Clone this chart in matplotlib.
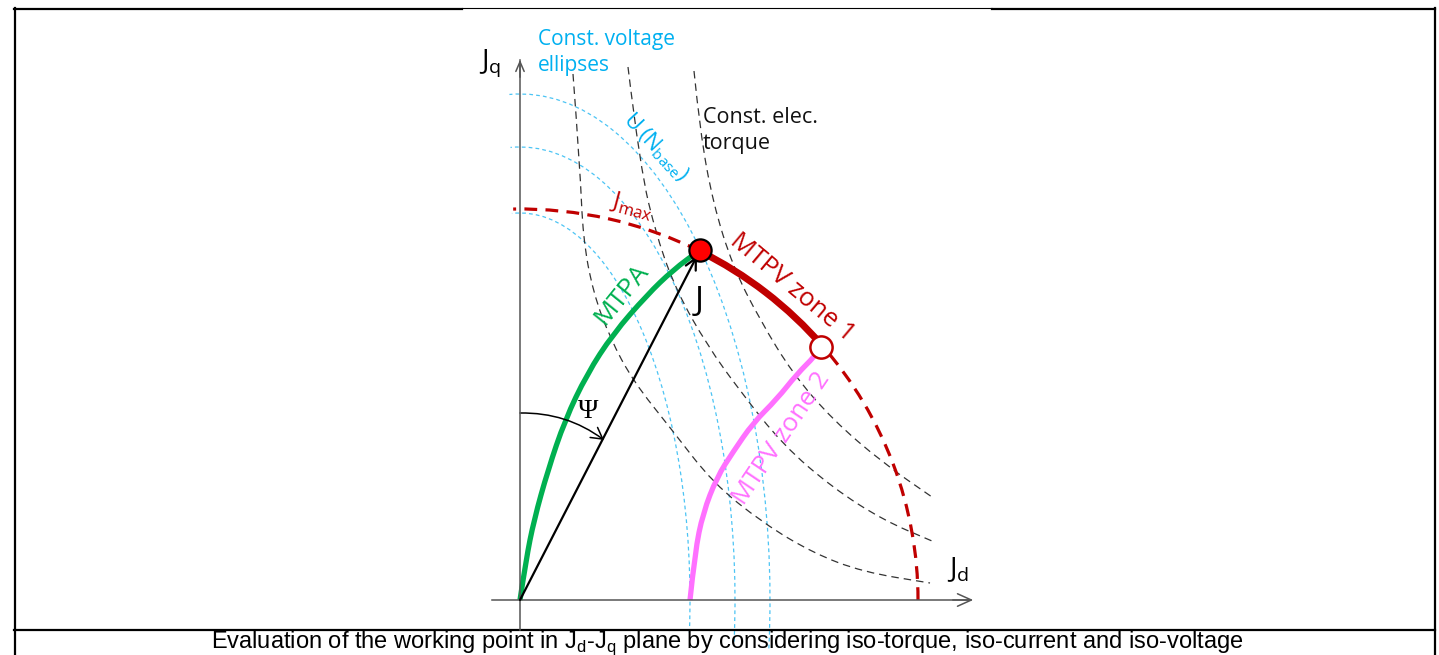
import matplotlib.pyplot as plt
from matplotlib.patches import Arc, FancyArrowPatch, PathPatch
from matplotlib.path import Path
import numpy as np

plt.rcParams['font.family'] = ['Open Sans', 'DejaVu Sans']

# Jd-Jq plane, one unit = one pixel of the original drawing, origin at the axes crossing
mtpa_d = [0, 6, 14, 28, 45, 67, 93, 127, 153, 180]
mtpa_q = [0, 40, 80, 130, 180, 226, 266, 305, 330, 350]

mtpv2_d = [170, 175, 183, 197, 213, 233, 257, 277, 295, 300]
mtpv2_q = [0, 48, 87, 123, 148, 177, 201, 226, 244, 252]

torque1_d = [53, 60, 63, 73, 90, 113, 152, 193, 243, 293, 343, 410]
torque1_q = [526, 433, 362, 308, 262, 219, 170, 117, 77, 47, 28, 17]
torque2_d = [108, 120, 137, 157, 187, 220, 263, 313, 363, 412]
torque2_q = [533, 433, 362, 308, 255, 209, 155, 112, 80, 59]
torque3_d = [174, 180, 193, 213, 240, 273, 313, 363, 412]
torque3_q = [529, 469, 397, 333, 280, 226, 180, 137, 103]

# constant voltage ellipses (semi axes along d and q)
ell_a = [170, 215, 250]
ell_b = [387, 453, 506]

# current limit Jmax
jmax_a, jmax_b = 398, 391
J_pt = (180, 350)
J_ang = 62.8
zone_pt = (301, 253)
zone_ang = 40.0

RED = '#C00000'
GREEN = '#00B050'
PINK = '#FF70FF'
CYAN = '#00B0F0'
LBLUE = '#4CC4F4'


def smooth_curve(ax, xs, ys, **kw):
    # quadratic bezier pieces through midpoints of the read points
    pts = list(zip(xs, ys))
    verts = [pts[0]]
    codes = [Path.MOVETO]
    for i in range(1, len(pts) - 1):
        mid = ((pts[i][0] + pts[i + 1][0]) / 2, (pts[i][1] + pts[i + 1][1]) / 2)
        verts += [pts[i], mid]
        codes += [Path.CURVE3, Path.CURVE3]
    verts.append(pts[-1])
    codes.append(Path.LINETO)
    ax.add_patch(PathPatch(Path(verts, codes), fill=False, **kw))


fig = plt.figure(figsize=(14.39, 6.55), dpi=100)
ax = fig.add_axes([0, 0, 1, 1])
ax.set_xlim(-520, 919)
ax.set_ylim(-55, 600)
ax.axis('off')

# table frame
ax.plot([-505, -505], [-60, 592], color='black', lw=1.6)
ax.plot([914.5, 914.5], [-60, 592], color='black', lw=1.6)
ax.plot([-506, -58], [591.5, 591.5], color='black', lw=1.6)
ax.plot([-58, 472], [592, 592], color='black', lw=0.8)
ax.plot([472, 915], [591.5, 591.5], color='black', lw=1.6)
ax.plot([-506, 915], [-30, -30], color='black', lw=1.6)

# axes
axc = '#555555'
ax.plot([0, 0], [-30, 540], color=axc, lw=1.1)
ax.annotate('', xy=(0, 543), xytext=(0, 520),
            arrowprops=dict(arrowstyle='->,head_length=0.7,head_width=0.3', color=axc, lw=1.1))
ax.plot([-28, 450], [0, 0], color=axc, lw=1.1)
ax.annotate('', xy=(456, 0), xytext=(430, 0),
            arrowprops=dict(arrowstyle='->,head_length=1.0,head_width=0.45', color=axc, lw=1.1))

# voltage ellipses
for a, b in zip(ell_a, ell_b):
    ax.add_patch(Arc((0, 0), 2 * a, 2 * b, theta1=-11, theta2=91.2, color=LBLUE,
                     lw=0.9, linestyle=(0, (3, 2.5))))

# iso torque
for dd, qq in [(torque1_d, torque1_q), (torque2_d, torque2_q), (torque3_d, torque3_q)]:
    smooth_curve(ax, dd, qq, edgecolor='#333333', lw=0.9, linestyle=(0, (6, 4)))

# Jmax circle
ax.add_patch(Arc((0, 0), 2 * jmax_a, 2 * jmax_b, theta1=J_ang, theta2=91, color=RED,
                 lw=2.3, linestyle=(0, (4, 2.6))))
ax.add_patch(Arc((0, 0), 2 * jmax_a, 2 * jmax_b, theta1=0, theta2=zone_ang, color=RED,
                 lw=2.3, linestyle=(0, (4, 2.6))))
ax.add_patch(Arc((0, 0), 2 * jmax_a, 2 * jmax_b, theta1=zone_ang, theta2=J_ang, color=RED,
                 lw=5.0, capstyle='butt'))

smooth_curve(ax, mtpa_d, mtpa_q, edgecolor=GREEN, lw=3.8, capstyle='butt')
smooth_curve(ax, mtpv2_d, mtpv2_q, edgecolor=PINK, lw=3.8, capstyle='butt')

# current vector and angle
ax.annotate('', xy=(J_pt[0] - 3, J_pt[1] - 6), xytext=(0, 0),
            arrowprops=dict(arrowstyle='->,head_length=0.8,head_width=0.4', color='black',
                            lw=1.6, shrinkA=0, shrinkB=0))
ax.add_patch(FancyArrowPatch((0, 187), (84, 160), connectionstyle='arc3,rad=-0.17',
                             arrowstyle='->,head_length=8,head_width=4.5', color='black',
                             lw=1.1, shrinkA=0, shrinkB=0))

ax.plot(*J_pt, 'o', ms=16, mfc='#FF0000', mec='black', mew=1.6, zorder=5)
ax.plot(*zone_pt, 'o', ms=16, mfc='white', mec=RED, mew=1.8, zorder=5)

# labels
ax.text(-41, 532, r'J$_{\mathregular{q}}$', fontsize=20, ha='left', va='baseline')
ax.text(427, 23, r'J$_{\mathregular{d}}$', fontsize=20, ha='left', va='baseline')
ax.text(18, 571, 'Const. voltage\nellipses', color=CYAN, fontsize=15, va='top',
        linespacing=1.3)
ax.text(183, 493, 'Const. elec.\ntorque', color='#111111', fontsize=15.5, va='top',
        linespacing=1.3)
ax.text(136, 453, r'U (N$_{\mathregular{base}}$)', color=CYAN, fontsize=15.5,
        rotation=-47, ha='center', va='center', rotation_mode='anchor')
ax.text(112, 394, r'J$_{\mathregular{max}}$', color=RED, fontsize=17,
        rotation=-15, ha='center', va='center', rotation_mode='anchor')
ax.text(102, 306, 'MTPA', color=GREEN, fontsize=19, rotation=51,
        ha='center', va='center', rotation_mode='anchor')
ax.text(179, 298, 'J', color='black', fontsize=24, ha='center', va='center')
ax.text(272, 312, 'MTPV zone 1', color=RED, fontsize=18.5, rotation=-40,
        ha='center', va='center', rotation_mode='anchor')
ax.text(262, 162, 'MTPV zone 2', color=PINK, fontsize=18.5, rotation=56,
        ha='center', va='center', rotation_mode='anchor')
ax.text(68, 188, '\u03a8', family='Liberation Serif', fontsize=20, ha='center', va='center')

ax.text(207, -43, r'Evaluation of the working point in J$_{\mathregular{d}}$-J$_{\mathregular{q}}$'
        ' plane by considering iso-torque, iso-current and iso-voltage',
        family='Liberation Sans', fontsize=17, ha='center', va='center')

fig.savefig('out.png', dpi=100)
